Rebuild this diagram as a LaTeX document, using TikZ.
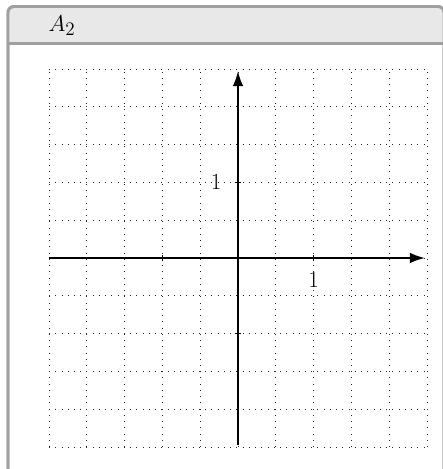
\documentclass[tikz,border=0pt]{standalone}
\usetikzlibrary{arrows.meta}
\definecolor{framegray}{RGB}{160,160,160}
\definecolor{titlegray}{RGB}{232,232,232}
\tikzset{
  gridline/.style={line width=0.5pt, dash pattern=on 0.6pt off 4.1pt, black!85},
  axisline/.style={line width=1.6pt, -{Latex[length=4mm,width=2.8mm]}},
  tickmark/.style={line width=1.1pt},
  bigtext/.style={font=\fontsize{19}{23}\selectfont},
}
\begin{document}
\begin{tikzpicture}
\useasboundingbox (-6.297,-5.583) rectangle (5.424,6.826);
\begin{scope}
\clip (-6.297,-5.583) rectangle (5.424,6.826);
\draw[framegray, line width=2.2pt, fill=white, rounded corners=1.6mm] (-6.085,-5.75) rectangle (5.45,6.654);
\begin{scope}
\clip[rounded corners=1.6mm] (-6.085,-5.75) rectangle (5.45,6.654);
\fill[titlegray] (-6.085,5.675) rectangle (5.45,6.654);
\end{scope}
\draw[framegray, line width=2.2pt, rounded corners=1.6mm] (-6.085,-5.75) rectangle (5.45,6.654);
\draw[framegray, line width=2.2pt] (-6.085,5.675) -- (5.45,5.675);
\end{scope}
\node[bigtext] (title) at (-4.657,6.14) {$A_2$};
% grid
\draw[gridline] (-5,-5) grid (5,5);
% axes
\coordinate (xs) at (-5,0);
\coordinate (xe) at (4.95,0);
\coordinate (ys) at (0,-4.95);
\coordinate (ye) at (0,4.95);
\draw[axisline] (xs) -- (xe);
\draw[axisline] (ys) -- (ye);
% ticks
\foreach \t in {-2,2} {
  \draw[tickmark] (\t,-0.09) -- (\t,0.09);
  \draw[tickmark] (-0.09,\t) -- (0.09,\t);
}
\node[bigtext] (lx) at (2,-0.58) {$1$};
\node[bigtext] (ly) at (-0.58,2) {$1$};
\end{tikzpicture}
\end{document}
